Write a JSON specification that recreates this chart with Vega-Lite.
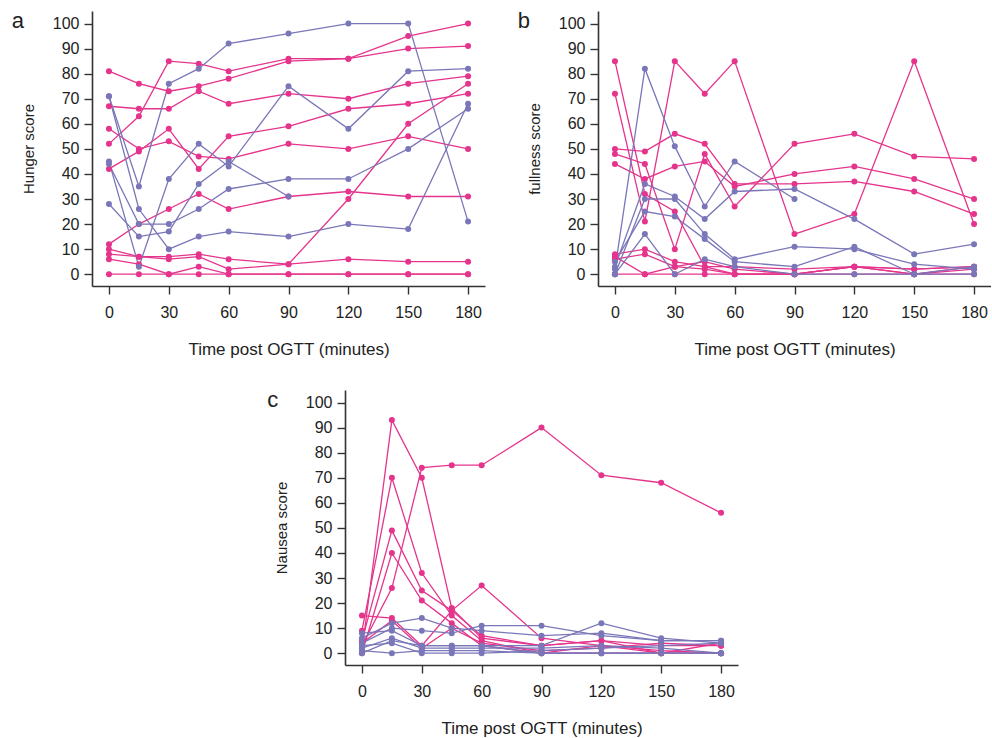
{
  "$schema": "https://vega.github.io/schema/vega-lite/v6.json",
  "padding": {"left": 11, "top": 10, "right": 0, "bottom": 5},
  "background": "white",
  "config": {
    "view": {"stroke": null},
    "font": "Liberation Sans",
    "axis": {
      "grid": false,
      "domainColor": "#333333",
      "domainWidth": 1.6,
      "tickColor": "#333333",
      "tickWidth": 1.4,
      "tickSize": 8,
      "labelFont": "Liberation Sans",
      "labelFontSize": 16,
      "labelColor": "#222222",
      "titleFont": "Liberation Sans",
      "titleFontWeight": "normal",
      "titleColor": "#222222"
    },
    "axisX": {"labelPadding": 10, "titleFontSize": 17, "titlePadding": 21},
    "axisY": {"labelPadding": 5, "titleFontSize": 15, "titlePadding": 16},
    "title": {"fontSize": 22, "fontWeight": "normal", "color": "#222222", "orient": "left", "anchor": "end", "angle": 0, "align": "right", "baseline": "top", "frame": "bounds", "offset": -15}
  },
  "datasets": {
    "hunger": [
      {"id":"PA","g":"pink","t":0,"v":81},{"id":"PA","g":"pink","t":15,"v":76},{"id":"PA","g":"pink","t":30,"v":73},{"id":"PA","g":"pink","t":45,"v":75},{"id":"PA","g":"pink","t":60,"v":78},{"id":"PA","g":"pink","t":90,"v":85},{"id":"PA","g":"pink","t":120,"v":86},{"id":"PA","g":"pink","t":150,"v":95},{"id":"PA","g":"pink","t":180,"v":100},
      {"id":"PB","g":"pink","t":0,"v":52},{"id":"PB","g":"pink","t":15,"v":63},{"id":"PB","g":"pink","t":30,"v":85},{"id":"PB","g":"pink","t":45,"v":84},{"id":"PB","g":"pink","t":60,"v":81},{"id":"PB","g":"pink","t":90,"v":86},{"id":"PB","g":"pink","t":120,"v":86},{"id":"PB","g":"pink","t":150,"v":90},{"id":"PB","g":"pink","t":180,"v":91},
      {"id":"PC","g":"pink","t":0,"v":67},{"id":"PC","g":"pink","t":15,"v":66},{"id":"PC","g":"pink","t":30,"v":66},{"id":"PC","g":"pink","t":45,"v":73},{"id":"PC","g":"pink","t":60,"v":68},{"id":"PC","g":"pink","t":90,"v":72},{"id":"PC","g":"pink","t":120,"v":70},{"id":"PC","g":"pink","t":150,"v":76},{"id":"PC","g":"pink","t":180,"v":79},
      {"id":"PD","g":"pink","t":0,"v":58},{"id":"PD","g":"pink","t":15,"v":50},{"id":"PD","g":"pink","t":30,"v":53},{"id":"PD","g":"pink","t":45,"v":47},{"id":"PD","g":"pink","t":60,"v":46},{"id":"PD","g":"pink","t":90,"v":52},{"id":"PD","g":"pink","t":120,"v":50},{"id":"PD","g":"pink","t":150,"v":55},{"id":"PD","g":"pink","t":180,"v":50},
      {"id":"PE","g":"pink","t":0,"v":42},{"id":"PE","g":"pink","t":15,"v":49},{"id":"PE","g":"pink","t":30,"v":58},{"id":"PE","g":"pink","t":45,"v":42},{"id":"PE","g":"pink","t":60,"v":55},{"id":"PE","g":"pink","t":90,"v":59},{"id":"PE","g":"pink","t":120,"v":66},{"id":"PE","g":"pink","t":150,"v":68},{"id":"PE","g":"pink","t":180,"v":72},
      {"id":"PF","g":"pink","t":0,"v":12},{"id":"PF","g":"pink","t":15,"v":20},{"id":"PF","g":"pink","t":30,"v":26},{"id":"PF","g":"pink","t":45,"v":32},{"id":"PF","g":"pink","t":60,"v":26},{"id":"PF","g":"pink","t":90,"v":31},{"id":"PF","g":"pink","t":120,"v":33},{"id":"PF","g":"pink","t":150,"v":31},{"id":"PF","g":"pink","t":180,"v":31},
      {"id":"PG","g":"pink","t":0,"v":10},{"id":"PG","g":"pink","t":15,"v":7},{"id":"PG","g":"pink","t":30,"v":7},{"id":"PG","g":"pink","t":45,"v":8},{"id":"PG","g":"pink","t":60,"v":6},{"id":"PG","g":"pink","t":90,"v":4},{"id":"PG","g":"pink","t":120,"v":6},{"id":"PG","g":"pink","t":150,"v":5},{"id":"PG","g":"pink","t":180,"v":5},
      {"id":"PH","g":"pink","t":0,"v":6},{"id":"PH","g":"pink","t":15,"v":4},{"id":"PH","g":"pink","t":30,"v":0},{"id":"PH","g":"pink","t":45,"v":3},{"id":"PH","g":"pink","t":60,"v":0},{"id":"PH","g":"pink","t":90,"v":0},{"id":"PH","g":"pink","t":120,"v":0},{"id":"PH","g":"pink","t":150,"v":0},{"id":"PH","g":"pink","t":180,"v":0},
      {"id":"PI","g":"pink","t":0,"v":8},{"id":"PI","g":"pink","t":15,"v":7},{"id":"PI","g":"pink","t":30,"v":6},{"id":"PI","g":"pink","t":45,"v":7},{"id":"PI","g":"pink","t":60,"v":2},{"id":"PI","g":"pink","t":90,"v":4},{"id":"PI","g":"pink","t":120,"v":30},{"id":"PI","g":"pink","t":150,"v":60},{"id":"PI","g":"pink","t":180,"v":76},
      {"id":"PJ","g":"pink","t":0,"v":0},{"id":"PJ","g":"pink","t":15,"v":0},{"id":"PJ","g":"pink","t":30,"v":0},{"id":"PJ","g":"pink","t":45,"v":0},{"id":"PJ","g":"pink","t":60,"v":0},{"id":"PJ","g":"pink","t":90,"v":0},{"id":"PJ","g":"pink","t":120,"v":0},{"id":"PJ","g":"pink","t":150,"v":0},{"id":"PJ","g":"pink","t":180,"v":0},
      {"id":"UA","g":"purple","t":0,"v":71},{"id":"UA","g":"purple","t":15,"v":35},{"id":"UA","g":"purple","t":30,"v":76},{"id":"UA","g":"purple","t":45,"v":82},{"id":"UA","g":"purple","t":60,"v":92},{"id":"UA","g":"purple","t":90,"v":96},{"id":"UA","g":"purple","t":120,"v":100},{"id":"UA","g":"purple","t":150,"v":100},{"id":"UA","g":"purple","t":180,"v":21},
      {"id":"UB","g":"purple","t":0,"v":45},{"id":"UB","g":"purple","t":15,"v":3},{"id":"UB","g":"purple","t":30,"v":38},{"id":"UB","g":"purple","t":45,"v":52},{"id":"UB","g":"purple","t":60,"v":43},{"id":"UB","g":"purple","t":90,"v":75},{"id":"UB","g":"purple","t":120,"v":58},{"id":"UB","g":"purple","t":150,"v":81},{"id":"UB","g":"purple","t":180,"v":82},
      {"id":"UC","g":"purple","t":0,"v":44},{"id":"UC","g":"purple","t":15,"v":20},{"id":"UC","g":"purple","t":30,"v":20},{"id":"UC","g":"purple","t":45,"v":26},{"id":"UC","g":"purple","t":60,"v":34},{"id":"UC","g":"purple","t":90,"v":38},{"id":"UC","g":"purple","t":120,"v":38},{"id":"UC","g":"purple","t":150,"v":50},{"id":"UC","g":"purple","t":180,"v":66},
      {"id":"UD","g":"purple","t":0,"v":71},{"id":"UD","g":"purple","t":15,"v":26},{"id":"UD","g":"purple","t":30,"v":10},{"id":"UD","g":"purple","t":45,"v":15},{"id":"UD","g":"purple","t":60,"v":17},{"id":"UD","g":"purple","t":90,"v":15},{"id":"UD","g":"purple","t":120,"v":20},{"id":"UD","g":"purple","t":150,"v":18},{"id":"UD","g":"purple","t":180,"v":68},
      {"id":"UE","g":"purple","t":0,"v":28},{"id":"UE","g":"purple","t":15,"v":15},{"id":"UE","g":"purple","t":30,"v":17},{"id":"UE","g":"purple","t":45,"v":36},{"id":"UE","g":"purple","t":60,"v":45},{"id":"UE","g":"purple","t":90,"v":31}
    ],
    "fullness": [
      {"id":"B1","g":"pink","t":0,"v":85},{"id":"B1","g":"pink","t":15,"v":32},{"id":"B1","g":"pink","t":30,"v":25},{"id":"B1","g":"pink","t":45,"v":3},{"id":"B1","g":"pink","t":60,"v":0},{"id":"B1","g":"pink","t":90,"v":0},{"id":"B1","g":"pink","t":120,"v":3},{"id":"B1","g":"pink","t":150,"v":0},{"id":"B1","g":"pink","t":180,"v":3},
      {"id":"B2","g":"pink","t":0,"v":72},{"id":"B2","g":"pink","t":15,"v":21},{"id":"B2","g":"pink","t":30,"v":85},{"id":"B2","g":"pink","t":45,"v":72},{"id":"B2","g":"pink","t":60,"v":85},{"id":"B2","g":"pink","t":90,"v":16},{"id":"B2","g":"pink","t":120,"v":24},{"id":"B2","g":"pink","t":150,"v":85},{"id":"B2","g":"pink","t":180,"v":20},
      {"id":"B3","g":"pink","t":0,"v":50},{"id":"B3","g":"pink","t":15,"v":49},{"id":"B3","g":"pink","t":30,"v":56},{"id":"B3","g":"pink","t":45,"v":52},{"id":"B3","g":"pink","t":60,"v":36},{"id":"B3","g":"pink","t":90,"v":36},{"id":"B3","g":"pink","t":120,"v":37},{"id":"B3","g":"pink","t":150,"v":33},{"id":"B3","g":"pink","t":180,"v":24},
      {"id":"B4","g":"pink","t":0,"v":44},{"id":"B4","g":"pink","t":15,"v":38},{"id":"B4","g":"pink","t":30,"v":43},{"id":"B4","g":"pink","t":45,"v":45},{"id":"B4","g":"pink","t":60,"v":35},{"id":"B4","g":"pink","t":90,"v":40},{"id":"B4","g":"pink","t":120,"v":43},{"id":"B4","g":"pink","t":150,"v":38},{"id":"B4","g":"pink","t":180,"v":30},
      {"id":"B5","g":"pink","t":0,"v":48},{"id":"B5","g":"pink","t":15,"v":44},{"id":"B5","g":"pink","t":30,"v":10},{"id":"B5","g":"pink","t":45,"v":48},{"id":"B5","g":"pink","t":60,"v":27},{"id":"B5","g":"pink","t":90,"v":52},{"id":"B5","g":"pink","t":120,"v":56},{"id":"B5","g":"pink","t":150,"v":47},{"id":"B5","g":"pink","t":180,"v":46},
      {"id":"B6","g":"pink","t":0,"v":8},{"id":"B6","g":"pink","t":15,"v":10},{"id":"B6","g":"pink","t":30,"v":5},{"id":"B6","g":"pink","t":45,"v":3},{"id":"B6","g":"pink","t":60,"v":3},{"id":"B6","g":"pink","t":90,"v":2},{"id":"B6","g":"pink","t":120,"v":3},{"id":"B6","g":"pink","t":150,"v":2},{"id":"B6","g":"pink","t":180,"v":3},
      {"id":"B7","g":"pink","t":0,"v":6},{"id":"B7","g":"pink","t":15,"v":8},{"id":"B7","g":"pink","t":30,"v":3},{"id":"B7","g":"pink","t":45,"v":2},{"id":"B7","g":"pink","t":60,"v":0},{"id":"B7","g":"pink","t":90,"v":0},{"id":"B7","g":"pink","t":120,"v":3},{"id":"B7","g":"pink","t":150,"v":0},{"id":"B7","g":"pink","t":180,"v":2},
      {"id":"B8","g":"pink","t":0,"v":0},{"id":"B8","g":"pink","t":15,"v":0},{"id":"B8","g":"pink","t":30,"v":0},{"id":"B8","g":"pink","t":45,"v":0},{"id":"B8","g":"pink","t":60,"v":0},{"id":"B8","g":"pink","t":90,"v":0},{"id":"B8","g":"pink","t":120,"v":0},{"id":"B8","g":"pink","t":150,"v":0},{"id":"B8","g":"pink","t":180,"v":0},
      {"id":"B9","g":"pink","t":0,"v":7},{"id":"B9","g":"pink","t":15,"v":0},{"id":"B9","g":"pink","t":30,"v":3},{"id":"B9","g":"pink","t":45,"v":5},{"id":"B9","g":"pink","t":60,"v":2},{"id":"B9","g":"pink","t":90,"v":0},{"id":"B9","g":"pink","t":120,"v":3},{"id":"B9","g":"pink","t":150,"v":2},{"id":"B9","g":"pink","t":180,"v":3},
      {"id":"U1","g":"purple","t":0,"v":2},{"id":"U1","g":"purple","t":15,"v":82},{"id":"U1","g":"purple","t":30,"v":51},{"id":"U1","g":"purple","t":45,"v":27},{"id":"U1","g":"purple","t":60,"v":45},{"id":"U1","g":"purple","t":90,"v":30},
      {"id":"U2","g":"purple","t":0,"v":3},{"id":"U2","g":"purple","t":15,"v":36},{"id":"U2","g":"purple","t":30,"v":31},{"id":"U2","g":"purple","t":45,"v":22},{"id":"U2","g":"purple","t":60,"v":33},{"id":"U2","g":"purple","t":90,"v":34},{"id":"U2","g":"purple","t":120,"v":22},{"id":"U2","g":"purple","t":150,"v":8},{"id":"U2","g":"purple","t":180,"v":12},
      {"id":"U3","g":"purple","t":0,"v":0},{"id":"U3","g":"purple","t":15,"v":30},{"id":"U3","g":"purple","t":30,"v":30},{"id":"U3","g":"purple","t":45,"v":16},{"id":"U3","g":"purple","t":60,"v":6},{"id":"U3","g":"purple","t":90,"v":11},{"id":"U3","g":"purple","t":120,"v":10},{"id":"U3","g":"purple","t":150,"v":4},{"id":"U3","g":"purple","t":180,"v":2},
      {"id":"U4","g":"purple","t":0,"v":5},{"id":"U4","g":"purple","t":15,"v":25},{"id":"U4","g":"purple","t":30,"v":23},{"id":"U4","g":"purple","t":45,"v":14},{"id":"U4","g":"purple","t":60,"v":5},{"id":"U4","g":"purple","t":90,"v":3},{"id":"U4","g":"purple","t":120,"v":11},{"id":"U4","g":"purple","t":150,"v":0},{"id":"U4","g":"purple","t":180,"v":0},
      {"id":"U5","g":"purple","t":0,"v":0},{"id":"U5","g":"purple","t":15,"v":16},{"id":"U5","g":"purple","t":30,"v":0},{"id":"U5","g":"purple","t":45,"v":6},{"id":"U5","g":"purple","t":60,"v":3},{"id":"U5","g":"purple","t":90,"v":0},{"id":"U5","g":"purple","t":120,"v":0},{"id":"U5","g":"purple","t":150,"v":0},{"id":"U5","g":"purple","t":180,"v":3}
    ],
    "nausea": [
      {"id":"C1","g":"pink","t":0,"v":3},{"id":"C1","g":"pink","t":15,"v":26},{"id":"C1","g":"pink","t":30,"v":74},{"id":"C1","g":"pink","t":45,"v":75},{"id":"C1","g":"pink","t":60,"v":75},{"id":"C1","g":"pink","t":90,"v":90},{"id":"C1","g":"pink","t":120,"v":71},{"id":"C1","g":"pink","t":150,"v":68},{"id":"C1","g":"pink","t":180,"v":56},
      {"id":"C2","g":"pink","t":0,"v":1},{"id":"C2","g":"pink","t":15,"v":93},{"id":"C2","g":"pink","t":30,"v":70},{"id":"C2","g":"pink","t":45,"v":18},{"id":"C2","g":"pink","t":60,"v":6},{"id":"C2","g":"pink","t":90,"v":3},{"id":"C2","g":"pink","t":120,"v":5},{"id":"C2","g":"pink","t":150,"v":3},{"id":"C2","g":"pink","t":180,"v":3},
      {"id":"C3","g":"pink","t":0,"v":9},{"id":"C3","g":"pink","t":15,"v":70},{"id":"C3","g":"pink","t":30,"v":32},{"id":"C3","g":"pink","t":45,"v":15},{"id":"C3","g":"pink","t":60,"v":5},{"id":"C3","g":"pink","t":90,"v":0},{"id":"C3","g":"pink","t":120,"v":0},{"id":"C3","g":"pink","t":150,"v":0},{"id":"C3","g":"pink","t":180,"v":0},
      {"id":"C4","g":"pink","t":0,"v":5},{"id":"C4","g":"pink","t":15,"v":49},{"id":"C4","g":"pink","t":30,"v":25},{"id":"C4","g":"pink","t":45,"v":17},{"id":"C4","g":"pink","t":60,"v":7},{"id":"C4","g":"pink","t":90,"v":3},{"id":"C4","g":"pink","t":120,"v":5},{"id":"C4","g":"pink","t":150,"v":0},{"id":"C4","g":"pink","t":180,"v":4},
      {"id":"C5","g":"pink","t":0,"v":0},{"id":"C5","g":"pink","t":15,"v":40},{"id":"C5","g":"pink","t":30,"v":21},{"id":"C5","g":"pink","t":45,"v":12},{"id":"C5","g":"pink","t":60,"v":3},{"id":"C5","g":"pink","t":90,"v":0},{"id":"C5","g":"pink","t":120,"v":3},{"id":"C5","g":"pink","t":150,"v":1},{"id":"C5","g":"pink","t":180,"v":0},
      {"id":"C6","g":"pink","t":0,"v":15},{"id":"C6","g":"pink","t":15,"v":14},{"id":"C6","g":"pink","t":30,"v":3},{"id":"C6","g":"pink","t":45,"v":17},{"id":"C6","g":"pink","t":60,"v":27},{"id":"C6","g":"pink","t":90,"v":6},{"id":"C6","g":"pink","t":120,"v":3},{"id":"C6","g":"pink","t":150,"v":0},{"id":"C6","g":"pink","t":180,"v":0},
      {"id":"C7","g":"pink","t":0,"v":4},{"id":"C7","g":"pink","t":15,"v":13},{"id":"C7","g":"pink","t":30,"v":2},{"id":"C7","g":"pink","t":45,"v":10},{"id":"C7","g":"pink","t":60,"v":4},{"id":"C7","g":"pink","t":90,"v":1},{"id":"C7","g":"pink","t":120,"v":2},{"id":"C7","g":"pink","t":150,"v":4},{"id":"C7","g":"pink","t":180,"v":3},
      {"id":"N1","g":"purple","t":0,"v":6},{"id":"N1","g":"purple","t":15,"v":12},{"id":"N1","g":"purple","t":30,"v":14},{"id":"N1","g":"purple","t":45,"v":10},{"id":"N1","g":"purple","t":60,"v":9},{"id":"N1","g":"purple","t":90,"v":7},{"id":"N1","g":"purple","t":120,"v":8},{"id":"N1","g":"purple","t":150,"v":5},{"id":"N1","g":"purple","t":180,"v":5},
      {"id":"N2","g":"purple","t":0,"v":4},{"id":"N2","g":"purple","t":15,"v":10},{"id":"N2","g":"purple","t":30,"v":9},{"id":"N2","g":"purple","t":45,"v":8},{"id":"N2","g":"purple","t":60,"v":11},{"id":"N2","g":"purple","t":90,"v":11},{"id":"N2","g":"purple","t":120,"v":7},{"id":"N2","g":"purple","t":150,"v":5},{"id":"N2","g":"purple","t":180,"v":5},
      {"id":"N3","g":"purple","t":0,"v":8},{"id":"N3","g":"purple","t":15,"v":9},{"id":"N3","g":"purple","t":30,"v":3},{"id":"N3","g":"purple","t":45,"v":3},{"id":"N3","g":"purple","t":60,"v":3},{"id":"N3","g":"purple","t":90,"v":3},{"id":"N3","g":"purple","t":120,"v":12},{"id":"N3","g":"purple","t":150,"v":6},{"id":"N3","g":"purple","t":180,"v":4},
      {"id":"N4","g":"purple","t":0,"v":2},{"id":"N4","g":"purple","t":15,"v":6},{"id":"N4","g":"purple","t":30,"v":2},{"id":"N4","g":"purple","t":45,"v":2},{"id":"N4","g":"purple","t":60,"v":2},{"id":"N4","g":"purple","t":90,"v":2},{"id":"N4","g":"purple","t":120,"v":3},{"id":"N4","g":"purple","t":150,"v":2},{"id":"N4","g":"purple","t":180,"v":0},
      {"id":"N5","g":"purple","t":0,"v":0},{"id":"N5","g":"purple","t":15,"v":5},{"id":"N5","g":"purple","t":30,"v":3},{"id":"N5","g":"purple","t":45,"v":3},{"id":"N5","g":"purple","t":60,"v":3},{"id":"N5","g":"purple","t":90,"v":0},{"id":"N5","g":"purple","t":120,"v":0},{"id":"N5","g":"purple","t":150,"v":0},{"id":"N5","g":"purple","t":180,"v":0},
      {"id":"N6","g":"purple","t":0,"v":3},{"id":"N6","g":"purple","t":15,"v":4},{"id":"N6","g":"purple","t":30,"v":0},{"id":"N6","g":"purple","t":45,"v":0},{"id":"N6","g":"purple","t":60,"v":0},{"id":"N6","g":"purple","t":90,"v":1},{"id":"N6","g":"purple","t":120,"v":2},{"id":"N6","g":"purple","t":150,"v":3},{"id":"N6","g":"purple","t":180,"v":4},
      {"id":"N7","g":"purple","t":0,"v":1},{"id":"N7","g":"purple","t":15,"v":0},{"id":"N7","g":"purple","t":30,"v":1},{"id":"N7","g":"purple","t":45,"v":1},{"id":"N7","g":"purple","t":60,"v":1},{"id":"N7","g":"purple","t":90,"v":0},{"id":"N7","g":"purple","t":120,"v":0},{"id":"N7","g":"purple","t":150,"v":0},{"id":"N7","g":"purple","t":180,"v":0}
    ]
  },
  "spacing": 32,
  "center": true,
  "vconcat": [
    {
      "spacing": 32,
      "hconcat": [
        {
          "width": 393, "height": 275,
          "data": {"name": "hunger"},
          "title": {"text": "a"},
          "mark": {"type": "line", "strokeWidth": 1.3, "point": {"filled": true, "size": 36, "opacity": 1}},
          "encoding": {
            "x": {"field": "t", "type": "quantitative", "scale": {"domain": [-8.5, 188.5], "nice": false, "zero": false}, "axis": {"values": [0, 30, 60, 90, 120, 150, 180], "title": "Time post OGTT (minutes)"}},
            "y": {"field": "v", "type": "quantitative", "scale": {"domain": [-4.7, 105], "nice": false, "zero": false}, "axis": {"values": [0, 10, 20, 30, 40, 50, 60, 70, 80, 90, 100], "title": "Hunger score"}},
            "color": {"field": "g", "type": "nominal", "scale": {"domain": ["pink", "purple"], "range": ["#e5348c", "#7a77b9"]}, "legend": null},
            "detail": {"field": "id"}
          }
        },
        {
          "width": 393, "height": 275,
          "data": {"name": "fullness"},
          "title": {"text": "b"},
          "mark": {"type": "line", "strokeWidth": 1.3, "point": {"filled": true, "size": 36, "opacity": 1}},
          "encoding": {
            "x": {"field": "t", "type": "quantitative", "scale": {"domain": [-8.5, 188.5], "nice": false, "zero": false}, "axis": {"values": [0, 30, 60, 90, 120, 150, 180], "title": "Time post OGTT (minutes)"}},
            "y": {"field": "v", "type": "quantitative", "scale": {"domain": [-4.7, 105], "nice": false, "zero": false}, "axis": {"values": [0, 10, 20, 30, 40, 50, 60, 70, 80, 90, 100], "title": "fullness score"}},
            "color": {"field": "g", "type": "nominal", "scale": {"domain": ["pink", "purple"], "range": ["#e5348c", "#7a77b9"]}, "legend": null},
            "detail": {"field": "id"}
          }
        }
      ]
    },
    {
      "width": 393, "height": 275,
      "data": {"name": "nausea"},
      "title": {"text": "c"},
      "mark": {"type": "line", "strokeWidth": 1.3, "point": {"filled": true, "size": 36, "opacity": 1}},
      "encoding": {
        "x": {"field": "t", "type": "quantitative", "scale": {"domain": [-8.5, 188.5], "nice": false, "zero": false}, "axis": {"values": [0, 30, 60, 90, 120, 150, 180], "title": "Time post OGTT (minutes)"}},
        "y": {"field": "v", "type": "quantitative", "scale": {"domain": [-4.7, 105], "nice": false, "zero": false}, "axis": {"values": [0, 10, 20, 30, 40, 50, 60, 70, 80, 90, 100], "title": "Nausea score"}},
        "color": {"field": "g", "type": "nominal", "scale": {"domain": ["pink", "purple"], "range": ["#e5348c", "#7a77b9"]}, "legend": null},
        "detail": {"field": "id"}
      }
    }
  ]
}
